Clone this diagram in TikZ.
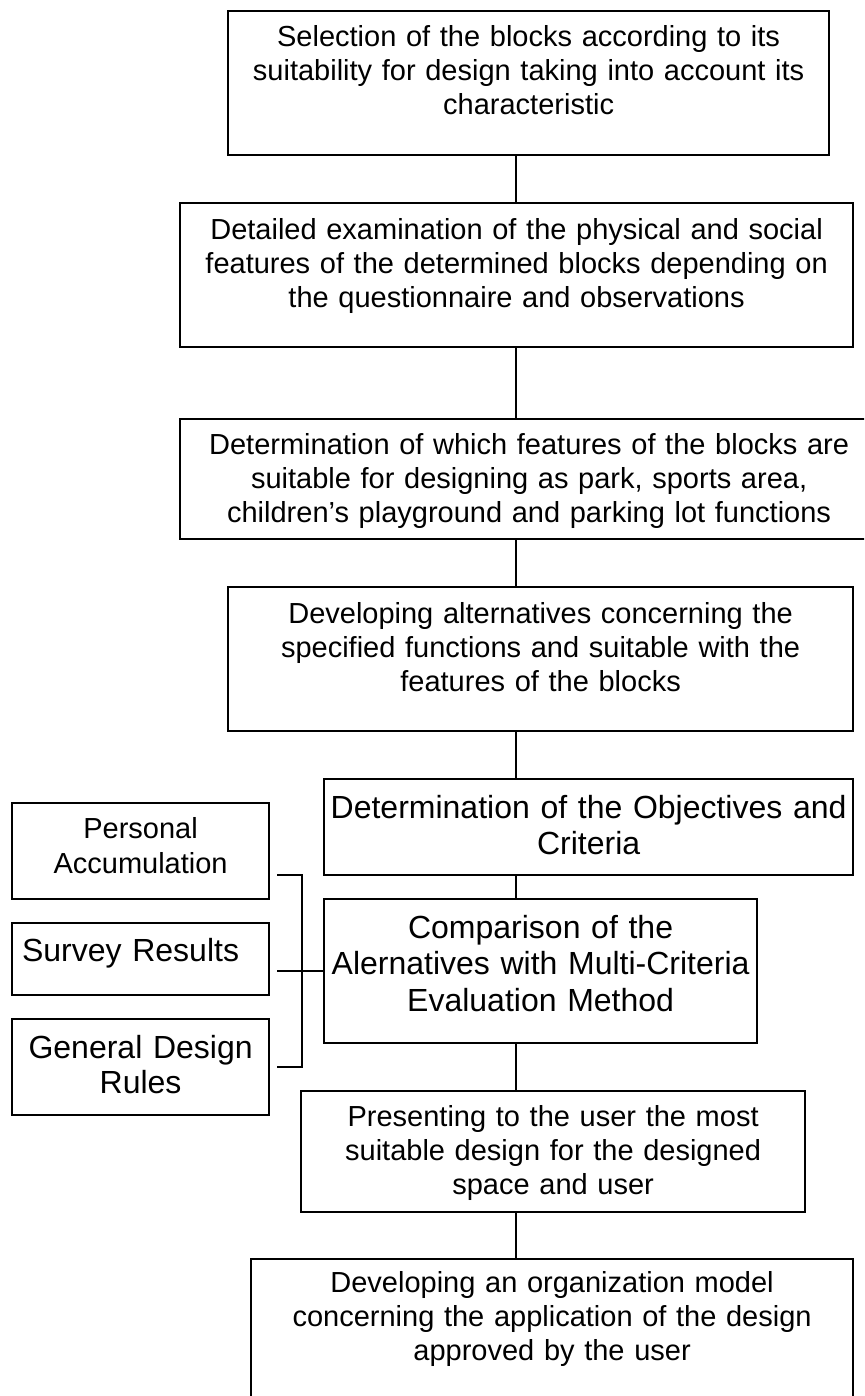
\documentclass[tikz,border=0pt]{standalone}
\usepackage{fontspec}
\setmainfont{Liberation Sans}
\usepackage{xcolor}
\usepackage{tikz}
\usetikzlibrary{positioning,calc}
\definecolor{PlanInk}{HTML}{000000}
\tikzset{
  planbox/.style={draw=PlanInk, line width=2.2pt, align=center, inner sep=0pt,
    anchor=north west, font=\fontsize{29}{34}\selectfont},
  planlarge/.style={planbox, font=\fontsize{32}{36.8}\selectfont},
  planlink/.style={draw=PlanInk, line width=2pt}
}

\begin{document}
\begin{tikzpicture}[x=1pt, y=-1pt]
  \useasboundingbox (0,0) rectangle (864,1396);
  \clip (0,0) rectangle (864,1396);
  \coordinate (spine) at (516,0);

  \node[planbox, text width=601pt, text height=35pt, text depth=109pt] (select) at (227,10)
    {Selection of the blocks according to its\\suitability for design taking into account its\\characteristic};
  \node[planbox, text width=673pt, text height=36pt, text depth=108pt] (examine) at (179,202)
    {Detailed examination of the physical and social\\features of the determined blocks depending on\\the questionnaire and observations};
  \node[planbox, text width=698pt, text height=35pt, text depth=85pt] (features) at (179,418)
    {Determination of which features of the blocks are\\suitable for designing as park, sports area,\\children’s playground and parking lot functions};
  \node[planbox, text width=625pt, text height=36pt, text depth=108pt] (alternatives) at (227,586)
    {Developing alternatives concerning the\\specified functions and suitable with the\\features of the blocks};
  \node[planlarge, text width=529pt, text height=39pt, text depth=57pt] (objectives) at (323,778)
    {Determination of the Objectives and\\Criteria};
  \node[planlarge, text width=433pt, text height=39pt, text depth=105pt] (compare) at (323,898)
    {Comparison of the\\Alernatives with Multi-Criteria\\Evaluation Method};
  \node[planbox, text width=504pt, text height=35pt, text depth=86pt] (present) at (300,1090)
    {Presenting to the user the most\\suitable design for the designed\\space and user};
  \node[planbox, text width=602pt, text height=33pt, text depth=140pt] (organize) at (250,1258)
    {Developing an organization model\\concerning the application of the design\\approved by the user};

  % inputs to the comparison
  \node[planbox, font=\fontsize{29}{35}\selectfont, text width=257pt,
    text height=35pt, text depth=61pt] (personal) at (11,802) {Personal\\Accumulation};
  \node[planlarge, align=left, inner xsep=10pt, text width=237pt,
    text height=38pt, text depth=34pt] (survey) at (11,922) {Survey Results};
  \node[planlarge, font=\fontsize{32}{35}\selectfont, text width=257pt,
    text height=39pt, text depth=57pt] (general) at (11,1018) {General Design\\Rules};

  \draw[planlink] (select.south -| spine) -- (examine.north -| spine);
  \draw[planlink] (examine.south -| spine) -- (features.north -| spine);
  \draw[planlink] (features.south -| spine) -- (alternatives.north -| spine);
  \draw[planlink] (alternatives.south -| spine) -- (objectives.north -| spine);
  \draw[planlink] (objectives.south -| spine) -- (compare.north -| spine);
  \draw[planlink] (compare.south -| spine) -- (present.north -| spine);
  \draw[planlink] (present.south -| spine) -- (organize.north -| spine);

  \draw[planlink] ([shift={(7,24)}]personal.east) -| ([xshift=32]general.east)
    -- ([xshift=7]general.east);
  \draw[planlink] ([xshift=7]survey.east |- compare.west) -- (compare.west);
\end{tikzpicture}
\end{document}
